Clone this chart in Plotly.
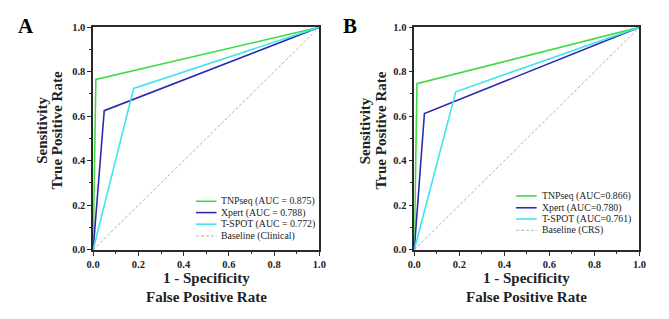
import plotly.graph_objects as go

W, H = 669, 319

# ---- data ----
series_names = ["TNPseq", "Xpert", "T-SPOT"]
series_colors = ["#3fdc3f", "#2b2bb0", "#40e4ec"]

# Panel A (reference: Clinical)
a_fpr = {"TNPseq": [0.0, 0.012, 1.0], "Xpert": [0.0, 0.049, 1.0], "T-SPOT": [0.0, 0.179, 1.0]}
a_tpr = {"TNPseq": [0.0, 0.765, 1.0], "Xpert": [0.0, 0.625, 1.0], "T-SPOT": [0.0, 0.725, 1.0]}
a_auc = {"TNPseq": "0.875", "Xpert": "0.788", "T-SPOT": "0.772"}
a_baseline = "Baseline (Clinical)"

# Panel B (reference: CRS)
b_fpr = {"TNPseq": [0.0, 0.012, 1.0], "Xpert": [0.0, 0.045, 1.0], "T-SPOT": [0.0, 0.184, 1.0]}
b_tpr = {"TNPseq": [0.0, 0.746, 1.0], "Xpert": [0.0, 0.612, 1.0], "T-SPOT": [0.0, 0.710, 1.0]}
b_auc = {"TNPseq": "0.866", "Xpert": "0.780", "T-SPOT": "0.761"}
b_baseline = "Baseline (CRS)"

baseline_x = [0.0, 1.0]
baseline_y = [0.0, 1.0]
tick_vals = [0.0, 0.2, 0.4, 0.6, 0.8, 1.0]
tick_text = ["0.0", "0.2", "0.4", "0.6", "0.8", "1.0"]
x_title_lines = ["1 - Specificity", "False Positive Rate"]
y_title_lines = ["Sensitivity", "True Positive Rate"]

FONT = "Liberation Serif"
DASH = "3px,2px"
BASE_COL = "#b0b0b0"
fig = go.Figure()

def px(x):
    return x / W

def py(y):
    return 1 - y / H

# pixel layout
xa_dom = [px(88), px(319)]
xb_dom = [px(416), px(646)]
y_dom = [py(253.5), py(23)]

panels = [
    ("x", "y", a_fpr, a_tpr, a_auc, a_baseline, " = "),
    ("x2", "y2", b_fpr, b_tpr, b_auc, b_baseline, "="),
]
for xa, ya, fpr, tpr, auc, base, sep in panels:
    fig.add_trace(go.Scatter(x=baseline_x, y=baseline_y, mode="lines", xaxis=xa, yaxis=ya,
                             line=dict(color=BASE_COL, width=1, dash=DASH),
                             showlegend=False, name=base))
    for name, col in zip(series_names, series_colors):
        fig.add_trace(go.Scatter(x=fpr[name], y=tpr[name], mode="lines", xaxis=xa, yaxis=ya,
                                 line=dict(color=col, width=1.6),
                                 showlegend=False, name=f"{name} (AUC{sep}{auc[name]})"))

axis_common = dict(range=[0, 1], showgrid=False, zeroline=False, showline=True, mirror=True,
                   linecolor="#2a2a2a", linewidth=1.5, ticks="outside", ticklen=4, tickwidth=1.2,
                   tickcolor="#2a2a2a", tickvals=tick_vals, ticktext=[f"<b>{t}</b>" for t in tick_text],
                   tickfont=dict(family=FONT, size=10.5, color="#222"),
                   minor=dict(ticks="outside", ticklen=2.5, tickwidth=1, tickcolor="#2a2a2a", dtick=0.1, showgrid=False))

fig.update_layout(
    width=W, height=H, margin=dict(l=0, r=0, t=0, b=0),
    paper_bgcolor="white", plot_bgcolor="white", showlegend=False,
    xaxis=dict(domain=xa_dom, anchor="y", **axis_common),
    yaxis=dict(domain=y_dom, anchor="x", **axis_common),
    xaxis2=dict(domain=xb_dom, anchor="y2", **axis_common),
    yaxis2=dict(domain=y_dom, anchor="x2", **axis_common),
)

ann = []
# panel letters
ann.append(dict(text="<b>A</b>", x=px(19.5), y=py(22), xref="paper", yref="paper", showarrow=False,
                font=dict(family=FONT, size=21, color="black"), xanchor="center", yanchor="middle"))
ann.append(dict(text="<b>B</b>", x=px(350.5), y=py(22), xref="paper", yref="paper", showarrow=False,
                font=dict(family=FONT, size=21, color="black"), xanchor="center", yanchor="middle"))
# axis titles (each line placed separately for tight spacing)
for cx, ycols in [(203.5, (35, 51)), (531, (365.5, 381))]:
    for line, yy in zip(x_title_lines, (283, 302)):
        ann.append(dict(text=f"<b>{line}</b>", x=px(cx), y=py(yy),
                        xref="paper", yref="paper", showarrow=False, xanchor="center", yanchor="middle",
                        font=dict(family=FONT, size=15, color="#222")))
    for line, xx in zip(y_title_lines, ycols):
        ann.append(dict(text=f"<b>{line}</b>", x=px(xx), y=py(130),
                        xref="paper", yref="paper", showarrow=False, xanchor="center", yanchor="middle",
                        textangle=-90, font=dict(family=FONT, size=15, color="#222")))

# manual legends (compact spacing)
shapes = []
legend_specs = [
    (193, 214, 217, [203.3, 215, 227, 239.3], a_auc, a_baseline, " = "),
    (520, 541, 544, [197.7, 210, 221.7, 233.3], b_auc, b_baseline, "="),
]
for lx0, lx1, tx, ys, auc, base, sep in legend_specs:
    for i, (name, col) in enumerate(zip(series_names, series_colors)):
        shapes.append(dict(type="line", xref="paper", yref="paper", x0=px(lx0), x1=px(lx1),
                           y0=py(ys[i]), y1=py(ys[i]), line=dict(color=col, width=1.6)))
        ann.append(dict(text=f"{name} (AUC{sep}{auc[name]})", x=px(tx), y=py(ys[i]), xref="paper", yref="paper",
                        showarrow=False, xanchor="left", yanchor="middle",
                        font=dict(family=FONT, size=9.8, color="#222")))
    shapes.append(dict(type="line", xref="paper", yref="paper", x0=px(lx0), x1=px(lx1),
                       y0=py(ys[3]), y1=py(ys[3]), line=dict(color=BASE_COL, width=1, dash=DASH)))
    ann.append(dict(text=base, x=px(tx), y=py(ys[3]), xref="paper", yref="paper",
                    showarrow=False, xanchor="left", yanchor="middle",
                    font=dict(family=FONT, size=9.8, color="#222")))

fig.update_layout(annotations=ann, shapes=shapes)
fig.write_html("out.html", config={"displayModeBar": False},
               post_script="document.body.style.margin='0';document.body.style.overflow='hidden';")
